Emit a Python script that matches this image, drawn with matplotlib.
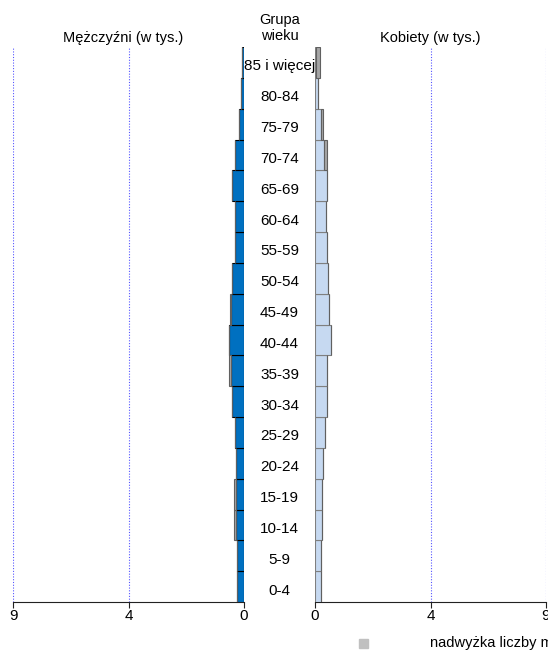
import matplotlib.pyplot as plt
import numpy as np

plt.rcParams["font.family"] = ["Liberation Sans", "DejaVu Sans"]
plt.rcParams["font.size"] = 10

ages = ["0-4", "5-9", "10-14", "15-19", "20-24", "25-29", "30-34", "35-39",
        "40-44", "45-49", "50-54", "55-59", "60-64", "65-69", "70-74",
        "75-79", "80-84", "85 i więcej"]
men = [0.26, 0.26, 0.32, 0.32, 0.32, 0.37, 0.47, 0.50, 0.60, 0.52, 0.45,
       0.37, 0.37, 0.45, 0.35, 0.20, 0.10, 0.06]
men_excess = [0, 0, 0.06, 0.06, 0, 0, 0, 0.08, 0, 0.04, 0, 0, 0, 0, 0, 0,
              0, 0]
women = [0.23, 0.23, 0.27, 0.27, 0.33, 0.39, 0.45, 0.45, 0.61, 0.53, 0.50,
         0.45, 0.42, 0.48, 0.35, 0.22, 0.10, 0.03]
women_excess = [0, 0, 0, 0, 0, 0, 0, 0, 0, 0, 0, 0, 0, 0, 0.10, 0.10, 0,
                0.15]
tick_pos = [0, 4.5, 9]
tick_labels = ["0", "4", "9"]

c_men = "#0070C0"
c_women = "#C6D9F1"
c_excess = "#A6A6A6"

fig = plt.figure(figsize=(5.48, 6.53), dpi=100)
axL = fig.add_axes([13 / 548, 1 - 602 / 653, 231 / 548, 555 / 653])
axR = fig.add_axes([315 / 548, 1 - 602 / 653, 231 / 548, 555 / 653])

y = np.arange(len(ages))
m = np.array(men)
w = np.array(women)

axL.barh(y, m, height=1, color=c_men, edgecolor="black", linewidth=0.8,
         zorder=3)
axL.barh(y, men_excess, left=m, height=1, color=c_excess,
         edgecolor="#606060", linewidth=0.8, zorder=3)
axR.barh(y, w, height=1, color=c_women, edgecolor="#7F7F7F", linewidth=0.8,
         zorder=3)
axR.barh(y, women_excess, left=w, height=1, color=c_excess,
         edgecolor="#606060", linewidth=0.8, zorder=3)

for ax in (axL, axR):
    ax.set_ylim(-0.5, len(ages) - 0.5)
    ax.set_yticks([])
    ax.set_xticks(tick_pos)
    ax.set_xticklabels(tick_labels)
    for s in ("top", "left", "right"):
        ax.spines[s].set_visible(False)
    ax.spines["bottom"].set_color("#222222")
    ax.tick_params(axis="x", length=4, width=0.8, color="#222222", pad=1,
                   labelsize=11)
    for x in tick_pos[1:]:
        ax.axvline(x, color="#5555FF", linestyle=(0, (1, 1.5)),
                   linewidth=0.8, zorder=1)
axL.set_xlim(9, 0)
axR.set_xlim(0, 9)

for i, a in enumerate(ages):
    axL.annotate(a, xy=(0, i), xycoords="data", xytext=(35.5, -4),
                 textcoords="offset pixels", ha="center", va="center",
                 fontsize=11)

fig.text(123 / 548, 1 - 38 / 653, "Mężczyźni (w tys.)", ha="center",
         va="center", fontsize=10.5)
fig.text(430 / 548, 1 - 38 / 653, "Kobiety (w tys.)", ha="center",
         va="center", fontsize=10.5)
fig.text(280 / 548, 1 - 28 / 653, "Grupa\nwieku", ha="center", va="center",
         linespacing=1.1, fontsize=10.5)

fig.patches.append(plt.Rectangle((359 / 548, 1 - 648 / 653), 9 / 548,
                                 9 / 653, transform=fig.transFigure,
                                 color="#C0C0C0"))
fig.text(430 / 548, 1 - 643 / 653, "nadwyżka liczby mężczyzn / kobiet",
         ha="left", va="center", fontsize=10.5)

fig.savefig("out.png", dpi=100)
